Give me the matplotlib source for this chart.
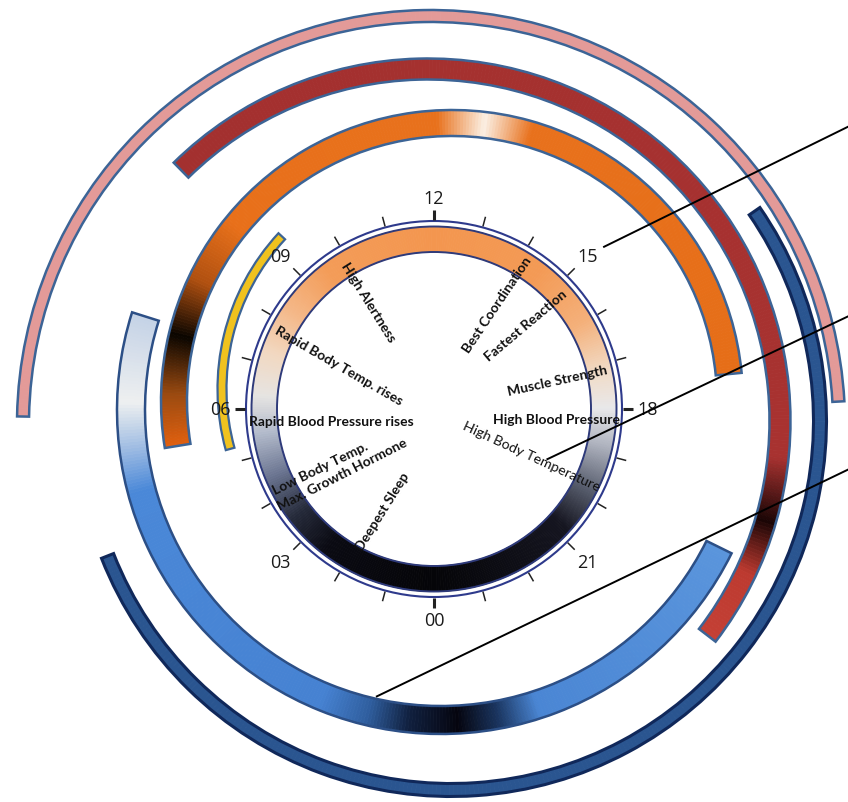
import numpy as np
import matplotlib
matplotlib.use("Agg")
import matplotlib.pyplot as plt
from matplotlib.patches import Wedge, Circle
from matplotlib.colors import to_rgb

W, H = 848, 803

# ---------------- data ----------------
tick_hours = list(range(24))
major_hours = [0, 3, 6, 9, 12, 15, 18, 21]
major_labels = ["00", "03", "06", "09", "12", "15", "18", "21"]

event_labels = ["High Alertness", "Rapid Body Temp. rises", "Rapid Blood Pressure rises",
                "Low Body Temp.", "Max. Growth Hormone", "Deepest Sleep",
                "Best Coordination", "Fastest Reaction", "Muscle Strength",
                "High Blood Pressure", "High Body Temperature"]
event_hours = [9.9, 7.8, 5.75, 4.2, 3.87, 1.88, 14.13, 15.23, 17.13, 18.2, 19.68]

# outer arcs: start / end hour (end > 24 means next day)
arc_names = ["pink", "maroon", "orange", "yellow", "blue", "navy"]
arc_start = [6.07, 9.03, 5.38, 4.97, 19.75, 15.69]
arc_end = [17.79, 20.5, 17.63, 8.85, 31.17, 28.57]

clock_stops = [(0, '#050508'), (2.5, '#0a0a12'), (3.5, '#252a3a'), (4.5, '#6a7490'),
               (5.5, '#b4bccc'), (6.3, '#e6e4e2'), (7.3, '#f2d8c0'), (8.3, '#f4b888'),
               (9.5, '#f39c58'), (12, '#f3964f'), (14.5, '#f39a55'), (16, '#f4b07a'),
               (17.2, '#f1dcc8'), (18, '#e8e8ea'), (18.8, '#b0b4c0'), (19.8, '#5a6070'),
               (20.8, '#151520'), (24, '#050508')]
pink_stops = [(6.07, '#e39a98'), (17.79, '#e39a98')]
maroon_stops = [(9.0, '#a3302f'), (18.4, '#a83230'), (19.1, '#1a0505'),
                (19.7, '#bd3a30'), (20.5, '#c44035')]
orange_stops = [(5.38, '#e2600f'), (6.1, '#9a4a10'), (6.9, '#0a0500'), (7.7, '#b05010'),
                (8.6, '#e8701a'), (11.8, '#e8711c'), (12.45, '#fbf0e4'), (13.1, '#e8711c'),
                (17.63, '#e66e18')]
yellow_stops = [(4.97, '#f0c21e'), (8.85, '#f0c21e')]
blue_stops = [(19.75, '#5a95dc'), (22.8, '#4a86d4'), (23.3, '#1a3560'), (23.8, '#05050f'),
              (24.4, '#10203f'), (24.9, '#2f5e9e'), (25.5, '#4682d2'), (29.0, '#4a88d8'),
              (29.6, '#a8c2e4'), (30.1, '#eef0f0'), (31.17, '#c4d2e6')]
navy_stops = [(15.69, '#2a5590'), (28.57, '#2a5590')]

# leader lines: start at (hour, radius) around the clock, run to right edge
leader_hours = [15.09, 19.59, 0.75]

# ---------------- style ----------------
CX, CY = 434, 410            # clock centre (pixel coords)
arc_center_px = [(431, 425), (428, 422), (452, 402), (447, 390), (441, 411), (451, 422)]
arc_radius = [408, 352, 278, 225, 310, 369]
arc_width = [12, 21, 26, 9, 28, 13]
arc_stops = [pink_stops, maroon_stops, orange_stops, yellow_stops, blue_stops, navy_stops]
arc_edge = ['#3c6496', '#3c6496', '#3c6496', '#3c6496', '#2c4f86', '#10285a']
arc_lw = [1.8, 1.8, 1.8, 1.6, 1.8, 2.2]

event_r = [172, 177, 185, 180, 184, 159, 179, 176, 178, 186, 183]
event_rot = [-58, -30, 0, 26, 27, 58, 56, 40, 12.5, 0, -24.7]
event_ha = ['left'] * 6 + ['right'] * 5
event_weight = ['bold'] * 10 + ['normal']
event_size = [10.0] * 10 + [10.2]

leader_r = [235, 124, 293]
leader_angle = [26.2, 25.4, 25.7]

FONT = ['Lato', 'DejaVu Sans']
TFONT = ['Open Sans', 'DejaVu Sans']


def to_data(px, py):
    return px, H - py


def h2deg(h):
    return 270.0 - 15.0 * h


def interp_color(stops, h):
    hs = np.array([s[0] for s in stops])
    cs = np.array([to_rgb(s[1]) for s in stops])
    return tuple(np.interp(h, hs, cs[:, k]) for k in range(3))


def grad_arc(ax, center, r_out, width, h0, h1, stops, edge, lw, n=300, z=2):
    hs = np.linspace(h0, h1, n + 1)
    for a, b in zip(hs[:-1], hs[1:]):
        c = interp_color(stops, 0.5 * (a + b))
        ax.add_patch(Wedge(center, r_out, h2deg(b), h2deg(a), width=width,
                           facecolor=c, edgecolor=c, lw=0.6, zorder=z))
    ax.add_patch(Wedge(center, r_out, h2deg(h1), h2deg(h0), width=width,
                       fill=False, edgecolor=edge, lw=lw, zorder=z + 0.5))


fig = plt.figure(figsize=(W / 100, H / 100), dpi=100)
ax = fig.add_axes([0, 0, 1, 1])
ax.set_xlim(0, W)
ax.set_ylim(0, H)
ax.axis('off')

# outer arcs
for i in range(len(arc_names)):
    cx, cy = to_data(*arc_center_px[i])
    r_out = arc_radius[i] + arc_width[i] / 2
    grad_arc(ax, (cx, cy), r_out, arc_width[i], arc_start[i], arc_end[i],
             arc_stops[i], arc_edge[i], arc_lw[i])

# clock ring
ccx, ccy = to_data(CX, CY)
grad_arc(ax, (ccx, ccy), 182.5, 25.5, 0, 24, clock_stops, '#2e3a7a', 1.4, n=480, z=4)
ax.add_patch(Circle((ccx, ccy), 188, fill=False, edgecolor='#2e3a8c', lw=1.5, zorder=5))

# ticks
for h in tick_hours:
    t = np.deg2rad(h2deg(h))
    thick = h in (0, 6, 12, 18)
    r0, r1 = 189, 199
    ax.plot([ccx + r0 * np.cos(t), ccx + r1 * np.cos(t)],
            [ccy + r0 * np.sin(t), ccy + r1 * np.sin(t)],
            color='#222222', lw=2.2 if thick else 1.1, zorder=5, solid_capstyle='butt')

for h, lab in zip(major_hours, major_labels):
    t = np.deg2rad(h2deg(h))
    r = 202 + 12 * abs(np.cos(t)) + 9 * abs(np.sin(t))
    ax.text(ccx + r * np.cos(t), ccy + r * np.sin(t), lab, ha='center', va='center',
            fontsize=13, family=TFONT, color='#1a1a1a', zorder=6)

# event labels
for lab, h, r, rot, ha, wt, fs in zip(event_labels, event_hours, event_r, event_rot,
                                      event_ha, event_weight, event_size):
    t = np.deg2rad(h2deg(h))
    ax.text(ccx + r * np.cos(t), ccy + r * np.sin(t), lab, ha=ha, va='center',
            rotation=rot, rotation_mode='anchor', fontsize=fs, fontweight=wt,
            family=FONT, color='#111111', zorder=7)

# leader lines
for h, r, ang in zip(leader_hours, leader_r, leader_angle):
    t = np.deg2rad(h2deg(h))
    x0, y0 = ccx + r * np.cos(t), ccy + r * np.sin(t)
    a = np.deg2rad(ang)
    x1 = W
    y1 = y0 + (x1 - x0) * np.tan(a)
    ax.plot([x0, x1], [y0, y1], color='black', lw=1.4, zorder=8)

fig.savefig('out.png', dpi=100, facecolor='white')
